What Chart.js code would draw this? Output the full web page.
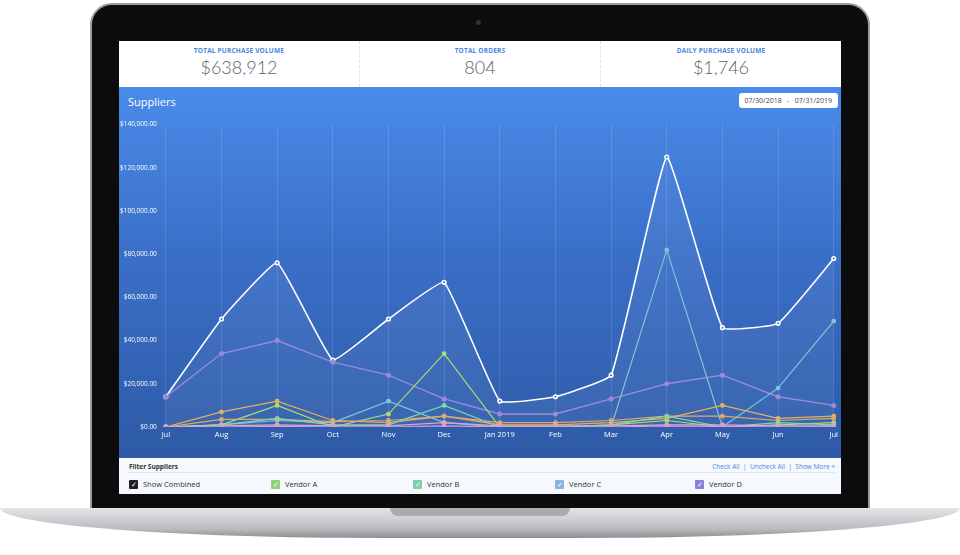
<!DOCTYPE html>
<html><head><meta charset="utf-8">
<script src="https://cdn.jsdelivr.net/npm/chart.js@4/dist/chart.umd.min.js"></script>
<style>
  body { margin:0; width:960px; height:555px; background:#fff; font-family:"Open Sans",sans-serif; position:relative; overflow:hidden; }
  .bezel { position:absolute; left:90px; top:3px; width:780px; height:510px; background:#0c0c0d; border-radius:22px 22px 0 0; border:2px solid #9a9ca0; box-sizing:border-box; }
  .base { position:absolute; left:0; top:508px; width:960px; height:30px; background:linear-gradient(#e4e5e8,#b9bbbf 70%,#8c8e92); border-radius:0 0 40% 40% / 0 0 100% 100%; }
  .notch { position:absolute; left:390px; top:508px; width:180px; height:8px; background:#a9abaf; border-radius:0 0 10px 10px; }
  .screen { position:absolute; left:119px; top:41px; width:722px; height:453px; background:#fff; overflow:hidden; }
  .stats { height:46px; display:flex; border-bottom:1px solid #ddd; }
  .stat { flex:1; text-align:center; border-right:1px dashed #e4e4e4; }
  .stat .t { font-size:6.5px; font-weight:700; color:#4a86e0; margin-top:5px; letter-spacing:.2px; }
  .stat .v { font-size:18px; font-weight:300; color:#5c6270; margin-top:1px; font-family:Lato,"Open Sans",sans-serif; }
  .panel { position:absolute; top:46px; left:0; width:722px; height:371px; background:linear-gradient(#4a8be9,#3a6fc8 45%,#2e5aa6); }
  .title { position:absolute; left:9px; top:7px; color:#fff; font-size:11px; }
  .date { position:absolute; right:3px; top:6px; background:#fff; border-radius:3px; font-size:7px; color:#444; padding:3px 6px; }
  .wrap { position:absolute; left:0; top:32px; width:722px; height:333px; }
  .filter { position:absolute; top:417px; left:0; width:722px; height:36px; background:#f5f8fc; }
  .fh { font-size:6.5px; font-weight:700; color:#333; position:absolute; left:10px; top:4px; }
  .links { position:absolute; right:6px; top:4px; font-size:6.5px; color:#4a86e0; }
  .line { position:absolute; left:8px; right:6px; top:14px; border-top:1px solid #e2e6ec; }
  .cb { position:absolute; top:21px; font-size:7.5px; color:#333; display:flex; align-items:center; }
  .cb i { display:inline-block; width:9px; height:9px; margin-right:5px; border-radius:1px; color:#fff; font-style:normal; font-size:7px; line-height:9px; text-align:center; }
</style></head>
<body>
<div class="bezel"></div>
<div style="position:absolute;left:476px;top:20px;width:5px;height:5px;border-radius:50%;background:#333"></div>
<div class="base"></div><div class="notch"></div>
<div class="screen">
  <div class="stats">
    <div class="stat"><div class="t">TOTAL PURCHASE VOLUME</div><div class="v">$638,912</div></div>
    <div class="stat"><div class="t">TOTAL ORDERS</div><div class="v">804</div></div>
    <div class="stat" style="border:none"><div class="t">DAILY PURCHASE VOLUME</div><div class="v">$1,746</div></div>
  </div>
  <div class="panel">
    <div class="title">Suppliers</div>
    <div class="date">07/30/2018 &nbsp; - &nbsp; 07/31/2019</div>
    <div class="wrap"><canvas id="c"></canvas></div>
  </div>
  <div class="filter">
    <div class="fh">Filter Suppliers</div>
    <div class="links">Check All &nbsp;|&nbsp; Uncheck All &nbsp;|&nbsp; Show More +</div>
    <div class="line"></div>
    <div class="cb" style="left:10px"><i style="background:#222">✓</i>Show Combined</div>
    <div class="cb" style="left:152px"><i style="background:#8fd07a">✓</i>Vendor A</div>
    <div class="cb" style="left:294px"><i style="background:#7fd0a8">✓</i>Vendor B</div>
    <div class="cb" style="left:436px"><i style="background:#8ab4dc">✓</i>Vendor C</div>
    <div class="cb" style="left:576px"><i style="background:#8a7fd6">✓</i>Vendor D</div>
  </div>
</div>
<script>
const months = ['Jul','Aug','Sep','Oct','Nov','Dec','Jan 2019','Feb','Mar','Apr','May','Jun','Jul'];
const combined = [14000,50000,76000,31000,50000,67000,12000,14000,24000,125000,46000,48000,78000];
const vendorD  = [14000,34000,40000,30000,24000,13000,6000,6000,13000,20000,24000,14000,10000];
const vendorC  = [0,1000,3000,2000,12000,2000,0,0,0,82000,0,18000,49000];
const vendorA  = [0,1000,10000,0,6000,34000,0,0,1000,3000,0,1000,2000];
const vendorE  = [0,7000,12000,3000,2000,5000,1000,1000,2000,4000,10000,4000,5000];
const vendorF  = [0,3500,3500,2500,3000,5000,2000,2000,3000,5000,5000,3000,4000];
const vendorB  = [0,1000,4000,1000,1000,10000,0,0,1000,5000,0,2000,1000];
const vendorG  = [0,500,1000,500,500,2000,500,500,500,1000,1000,500,500];
const vendorH  = [0,0,300,0,0,500,0,0,0,500,300,0,200];

const mk = (label, data, color, w) => ({ label, data, borderColor: color, backgroundColor: color,
  borderWidth: w || 1.2, pointRadius: 1.8, pointBackgroundColor: color, tension: 0 });
new Chart(document.getElementById('c'), {
  type: 'line',
  data: { labels: months, datasets: [
    mk('Vendor H', vendorH, '#d99ad8'),
    mk('Vendor G', vendorG, '#e6a2c8'),
    mk('Vendor B', vendorB, '#7fd8a8'),
    mk('Vendor F', vendorF, '#e0a870'),
    mk('Vendor E', vendorE, '#e8b05a'),
    mk('Vendor A', vendorA, '#a8e070'),
    mk('Vendor C', vendorC, '#7cc8d8'),
    mk('Vendor D', vendorD, '#9b8ad8', 1.4),
    { ...mk('Combined', combined, '#ffffff', 1.6), tension: 0.1, pointBackgroundColor: '#3a6fc8',
      fill: true, backgroundColor: 'rgba(255,255,255,0.05)' }
  ]},
  options: {
    responsive: true, maintainAspectRatio: false, animation: false,
    layout: { padding: { right: 4, top: 0, bottom: 10 } },
    plugins: { legend: { display: false }, tooltip: { enabled: false } },
    scales: {
      x: { offset: false, grid: { color: 'rgba(255,255,255,0.12)', drawTicks: false }, border: { display: false },
        ticks: { color: '#fff', font: { size: 7.5, family: 'Open Sans' }, padding: 3, maxRotation: 0 } },
      y: { min: 0, max: 140000, grid: { display: false }, border: { display: false },
        ticks: { stepSize: 20000, color: '#fff', font: { size: 6.5, family: 'Open Sans' }, padding: 1,
          callback: v => '$' + v.toLocaleString('en-US', { minimumFractionDigits: 2 }) } }
    }
  }
});
</script>
</body></html>
